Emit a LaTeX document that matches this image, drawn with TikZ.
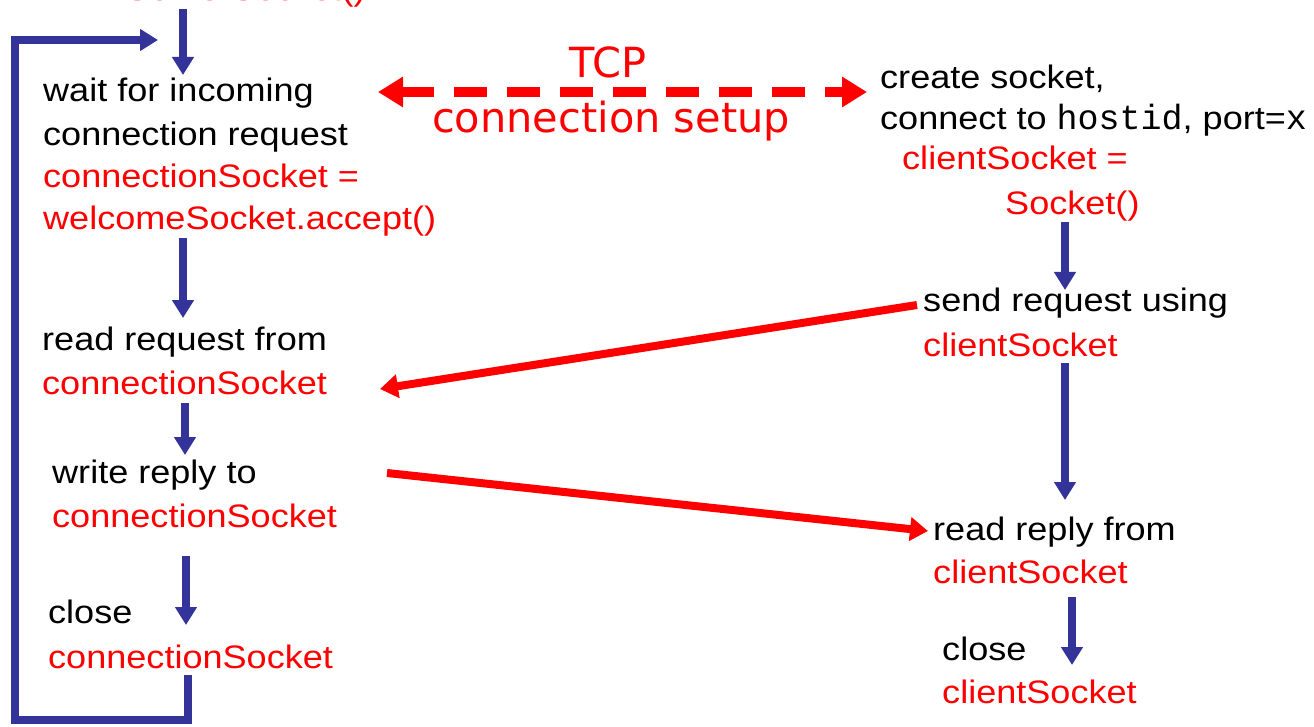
\documentclass[tikz,border=0pt]{standalone}
\usepackage{fontspec}
\setmainfont{Liberation Sans}[FakeStretch=1.11]
\setmonofont{Liberation Mono}
\newfontfamily\handfont{DejaVu Sans}
\usetikzlibrary{arrows.meta}
\definecolor{flowblue}{RGB}{51,51,153}
\definecolor{msgred}{RGB}{255,0,0}

\begin{document}
\begin{tikzpicture}[x=1pt,y=-1pt,
  txt/.style={anchor=base west, inner sep=0pt, font=\fontsize{32.5}{40}\selectfont},
  code/.style={txt, text=msgred},
  flow/.style={draw=flowblue, line width=8pt, line join=miter,
               -{Triangle[length=18pt,width=21pt]}},
  msg/.style={draw=msgred, line width=8pt, -{Triangle[length=18pt,width=23pt]}},
  setup/.style={draw=msgred, line width=10pt, dash pattern=on 33pt off 20pt,
               {Triangle[length=25pt,width=29pt]}-{Triangle[length=25pt,width=29pt]}},
  hand/.style={anchor=base, inner sep=0pt, text=msgred,
               font=\handfont\fontsize{41.5}{48}\selectfont},
  ]
\useasboundingbox (0,0) rectangle (1314,727);
\begin{scope}
\clip (0,0) rectangle (1314,727);

% ---------------- server side ----------------
\node[code] (srv) at (125,0.5) {ServerSocket()};

\node[txt]  (s1a) at (43,102) {wait for incoming};
\node[txt]  (s1b) at (43,146) {connection request};
\node[code] (s1c) at (43,188) {connectionSocket =};
\node[code] (s1d) at (43,230) {welcomeSocket.accept()};

\node[txt]  (s2a) at (42,350) {read request from};
\node[code] (s2b) at (42,394) {connectionSocket};

\node[txt]  (s3a) at (52,483) {write reply to};
\node[code] (s3b) at (52,527) {connectionSocket};

\node[txt]  (s4a) at (48,623) {close};
\node[code] (s4b) at (48,668) {connectionSocket};

% ---------------- client side ----------------
\node[txt]  (c1a) at (880,89)  {create socket,};
\node[txt]  (c1b) at (880,130) {connect to \fontsize{35}{40}\selectfont\ttfamily hostid\fontsize{32.5}{40}\rmfamily, port=\fontsize{35}{40}\selectfont\ttfamily x};
\node[code] (c1c) at (902,170) {clientSocket =};
\node[code] (c1d) at (1005,215) {Socket()};

\node[txt]  (c2a) at (923,312) {send request using};
\node[code] (c2b) at (923,356) {clientSocket};

\node[txt]  (c3a) at (933,540) {read reply from};
\node[code] (c3b) at (933,583) {clientSocket};

\node[txt]  (c4a) at (942,660) {close};
\node[code] (c4b) at (942,703) {clientSocket};

% ---------------- connection setup label ----------------
\node[hand] (tcp) at (608,78)  {TCP};
\node[hand] (cs)  at (611,133) {connection setup};

% ---------------- control-flow arrows ----------------
\coordinate (f0s) at (183,9);   \coordinate (f0e) at (183,75);
\coordinate (f1s) at (183,238); \coordinate (f1e) at (183,318);
\coordinate (f2s) at (185,403); \coordinate (f2e) at (185,455);
\coordinate (f3s) at (186,556); \coordinate (f3e) at (186,625);
\coordinate (lp0) at (188,675); \coordinate (lp1) at (188,720);
\coordinate (lp2) at (15,720);  \coordinate (lp3) at (15,40);
\coordinate (lp4) at (158,40);

\coordinate (g0s) at (1065,222); \coordinate (g0e) at (1065,290);
\coordinate (g1s) at (1065,363); \coordinate (g1e) at (1065,500);
\coordinate (g2s) at (1072,597); \coordinate (g2e) at (1072,665);

\draw[flow] (f0s) -- (f0e);
\draw[flow] (f1s) -- (f1e);
\draw[flow] (f2s) -- (f2e);
\draw[flow] (f3s) -- (f3e);
\draw[flow] (lp0) -- (lp1) -- (lp2) -- (lp3) -- (lp4);

\draw[flow] (g0s) -- (g0e);
\draw[flow] (g1s) -- (g1e);
\draw[flow] (g2s) -- (g2e);

% ---------------- messages between the hosts ----------------
\coordinate (hs0) at (378,92);  \coordinate (hs1) at (867,92);
\draw[setup] (hs0) -- (hs1);

\coordinate (rq0) at (917,305); \coordinate (rq1) at (380,389);
\draw[msg] (rq0) -- (rq1);

\coordinate (rp0) at (387,473); \coordinate (rp1) at (928,531);
\draw[msg] (rp0) -- (rp1);
\end{scope}
\end{tikzpicture}
\end{document}
